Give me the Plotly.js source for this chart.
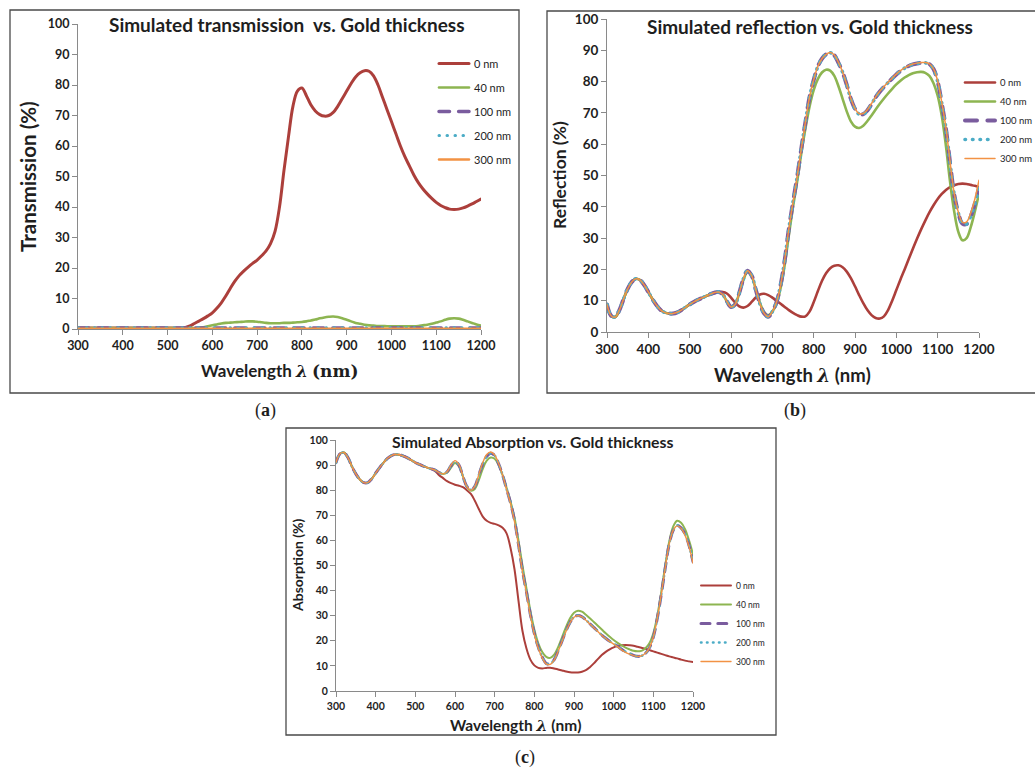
<!DOCTYPE html>
<html>
<head>
<meta charset="utf-8">
<script src="https://cdn.plot.ly/plotly-3.0.1.min.js"></script>
<style>
  html, body { margin: 0; padding: 0; background: #ffffff; }
  #fig { width: 1035px; height: 769px; }
  .js-line { stroke-linecap: round; stroke-linejoin: round; }
</style>
</head>
<body>
<div id="fig"></div>
<script>
// ---------- wavelength grids (nm) ----------
const wl = [300,310,320,330,340,350,360,370,380,390,400,410,420,430,440,450,460,470,480,490,
            500,510,520,530,540,550,560,570,580,590,600,610,620,630,640,650,660,670,680,690,
            700,710,720,730,740,750,760,770,780,790,800,810,820,830,840,850,860,870,880,890,
            900,910,920,930,940,950,960,970,980,990,1000,1010,1020,1030,1040,1050,1060,1070,1080,1090,
            1100,1110,1120,1130,1140,1150,1160,1170,1180,1190,1200];
const wlCoarse = [300,350,400,450,500,550,600,650,700,750,800,850,900,950,1000,1050,1100,1150,1200];

const seriesNames = ['0 nm', '40 nm', '100 nm', '200 nm', '300 nm'];

// ---------- (a) transmission (%) ----------
const trans0 = [0.3,0.3,0.3,0.3,0.3,0.3,0.3,0.3,0.3,0.3,0.3,0.3,0.3,0.3,0.3,0.3,0.3,0.3,0.3,0.3,
                0.3,0.3,0.3,0.3,0.5,1.0,1.8,2.6,3.4,4.3,5.3,6.8,8.6,10.8,13.3,15.6,17.5,19.0,20.3,21.5,
                22.6,24.0,25.6,28.0,32.0,40.0,52.0,63.0,73.0,78.0,79.0,76.5,73.5,71.5,70.3,69.8,70.0,71.0,73.0,75.5,
                78.0,80.5,82.6,84.0,84.7,84.5,83.0,80.0,76.0,72.0,68.0,64.0,60.0,56.5,53.5,50.5,48.0,46.0,44.3,42.8,
                41.5,40.5,39.8,39.3,39.2,39.3,39.7,40.3,41.0,41.8,42.6];
const trans40 = [0.3,0.3,0.3,0.3,0.3,0.3,0.3,0.3,0.3,0.3,0.3,0.3,0.3,0.3,0.3,0.3,0.3,0.3,0.3,0.3,
                 0.3,0.3,0.3,0.3,0.3,0.3,0.3,0.4,0.6,0.9,1.2,1.5,1.8,2.0,2.1,2.2,2.3,2.4,2.5,2.5,
                 2.4,2.2,2.0,1.9,1.9,1.9,2.0,2.0,2.1,2.2,2.3,2.5,2.8,3.1,3.5,3.8,4.0,4.1,3.9,3.5,
                 3.0,2.5,2.0,1.7,1.4,1.2,1.1,1.0,1.0,0.9,0.9,0.9,0.9,0.9,0.9,0.9,1.0,1.2,1.4,1.7,
                 2.1,2.5,3.0,3.4,3.5,3.4,3.0,2.5,2.0,1.5,1.1];
const trans100 = [0.3,0.3,0.3,0.3,0.3,0.3,0.3,0.3,0.3,0.3,0.3,0.3,0.3,0.3,0.3,0.3,0.3,0.3,0.3];
const trans200 = [0.4,0.4,0.4,0.4,0.4,0.4,0.4,0.4,0.4,0.4,0.4,0.4,0.4,0.4,0.4,0.4,0.4,0.4,0.4];
const trans300 = [0.1,0.1,0.1,0.1,0.1,0.1,0.1,0.1,0.1,0.1,0.1,0.1,0.1,0.1,0.1,0.1,0.1,0.1,0.1];

// ---------- (b) reflection (%) ----------
const refl0 = [8.8,5.2,4.8,7.0,10.5,13.8,16.0,17.0,16.6,15.0,12.8,10.5,8.5,7.0,6.2,5.9,5.9,6.3,7.0,7.9,
               8.8,9.6,10.3,10.9,11.5,12.0,12.4,12.7,12.8,12.3,11.0,9.4,8.2,7.8,8.3,9.6,11.0,12.0,12.2,11.8,
               11.0,10.0,9.0,8.0,7.0,6.1,5.4,4.9,5.0,6.5,9.5,13.0,16.3,18.8,20.4,21.2,21.3,20.7,19.3,17.2,
               14.6,11.8,9.2,7.0,5.4,4.5,4.3,5.0,7.0,10.0,13.4,16.8,20.0,23.3,26.6,29.8,32.8,35.6,38.2,40.5,
               42.5,44.1,45.4,46.3,46.9,47.3,47.4,47.3,47.0,46.7,46.3];
const refl40 = [8.8,5.2,4.8,7.0,10.5,13.8,16.0,17.0,16.6,15.0,12.8,10.5,8.5,7.0,6.2,5.9,5.9,6.3,7.0,7.9,
                8.8,9.6,10.3,10.9,11.5,12.1,12.6,12.8,12.0,9.8,8.2,9.0,12.3,16.6,19.2,17.8,13.6,9.3,6.4,5.3,
                6.5,9.0,14.0,21.5,31.0,40.0,48.0,57.0,65.0,72.0,77.3,80.8,82.9,83.8,83.5,81.8,78.5,74.5,70.5,67.3,
                65.6,65.2,65.9,67.4,69.2,71.1,72.9,74.6,76.2,77.7,79.1,80.3,81.3,82.1,82.7,83.0,83.1,82.8,81.8,79.5,
                75.5,69.0,59.5,48.0,38.5,32.0,29.3,30.0,33.5,38.5,44.2];
const refl100 = [8.8,5.2,4.8,7.0,10.5,13.8,16.0,17.0,16.6,15.0,12.8,10.5,8.5,7.0,6.2,5.9,5.9,6.3,7.0,7.9,
                 8.8,9.6,10.3,10.9,11.5,12.1,12.6,12.8,12.0,9.8,8.0,8.8,12.5,17.0,19.6,18.0,13.5,9.0,6.0,4.9,
                 6.5,9.5,15.0,23.0,33.0,41.5,49.5,58.5,67.0,75.0,80.5,84.8,87.3,88.7,89.2,88.4,86.0,83.0,79.0,74.5,
                 71.3,69.6,69.6,70.8,72.8,75.0,76.8,78.3,79.7,81.0,82.3,83.4,84.3,85.0,85.5,85.8,86.0,86.0,85.6,84.0,
                 80.0,73.0,65.0,54.0,44.0,38.0,34.6,34.5,37.0,41.0,46.0];
const refl200 = [8.8,5.2,4.8,7.0,10.5,13.8,16.0,17.0,16.6,15.0,12.8,10.5,8.5,7.0,6.2,5.9,5.9,6.3,7.0,7.9,
                 8.8,9.6,10.3,10.9,11.5,12.1,12.6,12.8,12.0,9.8,8.0,8.8,12.5,17.0,19.6,18.0,13.5,9.0,6.0,4.9,
                 6.5,9.5,15.0,23.0,33.0,41.5,49.5,58.5,67.0,75.0,80.5,84.8,87.3,88.7,89.2,88.4,86.0,83.0,79.0,74.5,
                 71.3,69.6,69.6,70.8,72.8,75.0,76.8,78.3,79.7,81.0,82.3,83.4,84.3,85.0,85.5,85.8,86.0,86.0,85.6,84.0,
                 80.0,73.0,65.0,54.0,44.0,38.0,34.6,34.5,37.0,41.0,46.0];
const refl300 = [8.8,5.2,4.8,7.0,10.5,13.8,16.0,17.0,16.6,15.0,12.8,10.5,8.5,7.0,6.2,5.9,5.9,6.3,7.0,7.9,
                 8.8,9.6,10.3,10.9,11.5,12.1,12.6,12.8,12.0,9.8,8.0,8.8,12.5,17.0,19.6,18.0,13.5,9.0,6.0,4.9,
                 6.5,9.5,15.0,23.0,33.0,41.5,49.5,58.5,67.0,75.0,80.5,84.8,87.3,88.7,89.3,88.5,86.1,83.1,79.1,74.6,
                 71.4,69.8,69.8,71.0,73.0,75.1,76.9,78.4,79.8,81.1,82.4,83.5,84.4,85.1,85.6,85.9,86.1,86.1,85.7,84.1,
                 80.2,73.3,65.3,54.3,44.3,38.3,35.0,35.2,38.0,42.5,48.5];

// ---------- (c) absorption (%) ----------
const abs0 = [91.0,94.5,95.0,93.0,89.5,86.5,84.3,83.0,83.0,84.5,86.8,89.0,91.0,92.7,93.8,94.2,94.1,93.6,92.9,92.0,
              91.0,90.3,89.6,89.0,88.5,87.6,86.0,84.8,83.6,82.8,82.2,81.8,81.2,80.0,78.5,75.8,72.5,69.5,67.8,67.0,
              66.6,66.0,65.0,62.8,57.0,48.5,36.0,24.0,17.0,12.5,10.2,9.2,9.0,9.2,9.3,9.0,8.6,8.2,7.8,7.5,
              7.4,7.4,7.7,8.3,9.5,11.0,12.7,14.3,15.6,16.6,17.4,17.9,18.2,18.3,18.2,18.0,17.6,17.2,16.8,16.3,
              15.8,15.3,14.8,14.3,13.8,13.4,13.0,12.5,12.1,11.8,11.5];
const abs40 = [91.0,94.5,95.0,93.0,89.5,86.5,84.3,83.0,83.0,84.5,86.8,89.0,91.0,92.7,93.8,94.2,94.1,93.6,92.9,92.0,
               91.0,90.3,89.6,89.0,88.5,88.0,87.0,86.5,87.0,89.0,90.8,89.5,85.5,81.3,79.8,80.5,84.0,88.5,91.8,93.0,
               92.5,90.0,86.0,81.0,75.5,69.0,60.0,50.0,41.0,32.0,24.5,19.0,15.5,13.6,13.2,14.5,17.5,21.5,25.5,29.0,
               31.2,32.0,31.6,30.4,29.0,27.5,26.0,24.5,23.0,21.6,20.3,19.2,18.2,17.3,16.6,16.0,15.8,16.0,17.0,19.0,
               23.0,30.0,39.5,50.0,59.5,65.5,67.8,67.0,64.5,60.0,54.5];
const abs100 = [91.0,94.5,95.0,93.0,89.5,86.5,84.3,83.0,83.0,84.5,86.8,89.0,91.0,92.7,93.8,94.2,94.1,93.6,92.9,92.0,
                91.0,90.3,89.6,89.0,88.5,88.0,87.0,86.5,87.3,89.8,91.5,90.0,85.5,81.5,80.2,81.5,86.0,90.5,93.5,94.7,
                93.8,90.5,86.0,80.5,75.0,68.0,58.5,48.0,39.5,30.5,23.0,17.5,13.5,11.0,10.8,12.5,16.0,20.0,24.0,27.3,
                29.5,30.1,29.6,28.3,26.8,25.3,23.8,22.3,21.0,19.8,18.8,17.8,16.6,15.6,14.9,14.2,13.8,14.0,15.0,17.2,
                21.5,29.0,38.5,49.0,58.5,64.0,66.0,65.0,62.5,58.0,51.5];
const abs200 = [91.0,94.5,95.0,93.0,89.5,86.5,84.3,83.0,83.0,84.5,86.8,89.0,91.0,92.7,93.8,94.2,94.1,93.6,92.9,92.0,
                91.0,90.3,89.6,89.0,88.5,88.0,87.0,86.5,87.3,89.8,91.5,90.0,85.5,81.5,80.2,81.5,86.0,90.5,93.5,94.7,
                93.8,90.5,86.0,80.5,75.0,68.0,58.5,48.0,39.5,30.5,23.0,17.5,13.5,11.0,10.8,12.5,16.0,20.0,24.0,27.3,
                29.5,30.1,29.6,28.3,26.8,25.3,23.8,22.3,21.0,19.8,18.8,17.8,16.6,15.6,14.9,14.2,13.8,14.0,15.0,17.2,
                21.5,29.0,38.5,49.0,58.5,64.0,66.0,65.0,62.5,58.0,51.5];
const abs300 = [91.0,94.5,95.0,93.0,89.5,86.5,84.3,83.0,83.0,84.5,86.8,89.0,91.0,92.7,93.8,94.2,94.1,93.6,92.9,92.0,
                91.0,90.3,89.6,89.0,88.5,88.0,87.0,86.5,87.4,90.0,91.8,90.2,85.6,81.4,80.0,81.5,86.2,91.0,94.2,95.2,
                94.0,90.6,86.0,80.3,74.6,67.5,58.0,47.5,39.0,30.0,22.5,17.0,13.2,10.8,10.6,12.3,15.8,19.8,23.8,27.2,
                29.4,30.0,29.5,28.2,26.7,25.2,23.7,22.2,20.9,19.7,18.7,17.6,16.4,15.4,14.7,14.1,13.8,14.0,15.0,17.2,
                21.5,29.0,38.5,49.0,58.5,64.0,65.8,64.8,62.0,57.5,51.0];

// ---------- styling ----------
const W = 1035, H = 769;
const px = v => v / W;          // pixel column -> paper x
const py = v => 1 - v / H;      // pixel row    -> paper y
const FONT = 'Lato, "Open Sans", sans-serif';
const INK = '#1e1e1e';
const AXIS = '#8a8a8a';
const colors = ['#AC3F3B', '#8DB551', '#7A5C9E', '#4BACC6', '#F29244'];

function seriesStyle(k, widths, dotGap) {
  const w = widths[k];
  const st = { color: colors[k], width: w, shape: 'spline', smoothing: 1 };
  if (k === 2) st.dash = (3 * w) + 'px,' + (2.6 * w) + 'px';
  if (k === 3) st.dash = '0.5px,' + dotGap + 'px';
  return st;
}

function makeTraces(xs, ys, xa, ya, leg, widths, dotGap) {
  return ys.map((y, k) => ({
    type: 'scatter', mode: 'lines',
    x: xs[k], y: y, name: seriesNames[k],
    xaxis: xa, yaxis: ya, legend: leg, legendgroup: leg + k,
    line: seriesStyle(k, widths, dotGap),
    hoverinfo: 'skip'
  }));
}

const traces = [].concat(
  makeTraces([wl, wl, wlCoarse, wlCoarse, wlCoarse],
             [trans0, trans40, trans100, trans200, trans300],
             'x', 'y', 'legend', [3, 2.6, 3.5, 3, 2.5], 7.5),
  makeTraces([wl, wl, wl, wl, wl],
             [refl0, refl40, refl100, refl200, refl300],
             'x2', 'y2', 'legend2', [2.6, 2.6, 4, 3.6, 1.5], 7),
  makeTraces([wl, wl, wl, wl, wl],
             [abs0, abs40, abs100, abs200, abs300],
             'x3', 'y3', 'legend3', [2, 2, 3, 2.6, 1.4], 5.5)
);

function xAxis(dom, anchor, size) {
  return {
    domain: dom, anchor: anchor, range: [300, 1200], tick0: 300, dtick: 100,
    showgrid: false, zeroline: false, showline: true, linecolor: AXIS, linewidth: 1,
    ticks: 'outside', ticklen: 5, tickcolor: AXIS, tickwidth: 1, automargin: false,
    tickfont: { family: FONT, size: size, color: INK, weight: 'bold' }, fixedrange: true
  };
}
function yAxis(dom, anchor, size) {
  return {
    domain: dom, anchor: anchor, range: [0, 100], tick0: 0, dtick: 10,
    showgrid: false, zeroline: false, showline: true, linecolor: AXIS, linewidth: 1,
    ticks: 'outside', ticklen: 5, tickcolor: AXIS, tickwidth: 1, automargin: false,
    tickfont: { family: FONT, size: size, color: INK, weight: 'bold' }, fixedrange: true
  };
}
function legendBox(x, y, size, gap) {
  return {
    x: x, y: y, xanchor: 'left', yanchor: 'top', bgcolor: 'rgba(0,0,0,0)',
    borderwidth: 0, font: { family: FONT, size: size, color: INK },
    tracegroupgap: gap, traceorder: 'grouped', itemclick: false, itemdoubleclick: false
  };
}
function label(text, x, y, size, opts) {
  return Object.assign({
    text: text, x: px(x), y: py(y), xref: 'paper', yref: 'paper',
    xanchor: 'center', yanchor: 'middle', showarrow: false,
    font: { family: FONT, size: size, color: INK, weight: 'bold' }
  }, opts || {});
}
function frame(x0, y0, x1, y1) {
  return { type: 'rect', xref: 'paper', yref: 'paper', x0: px(x0), x1: px(x1), y0: py(y1), y1: py(y0),
           line: { color: '#4a4a4a', width: 1.3 }, fillcolor: 'rgba(0,0,0,0)', layer: 'below' };
}

const lam = '<span style="font-family:\'DejaVu Serif\'"><i>λ</i></span>';
const serifLabel = { font: { family: '"Liberation Serif", serif', size: 18, color: INK } };

const layout = {
  width: W, height: H, margin: { l: 0, r: 0, t: 0, b: 0, autoexpand: false },
  paper_bgcolor: '#ffffff', plot_bgcolor: 'rgba(0,0,0,0)',
  xaxis:  xAxis([px(78), px(481)], 'y', 12.5),
  yaxis:  yAxis([py(329), py(24)], 'x', 12.5),
  xaxis2: xAxis([px(607), px(979)], 'y2', 13.5),
  yaxis2: yAxis([py(332), py(19)], 'x2', 13.5),
  xaxis3: xAxis([px(336), px(693)], 'y3', 10.5),
  yaxis3: yAxis([py(691), py(440)], 'x3', 10.5),
  legend:  legendBox(px(434), py(49), 11, 5),
  legend2: legendBox(px(960), py(68), 9.5, 0),
  legend3: legendBox(px(696), py(571), 8.5, 0),
  shapes: [
    frame(10, 10, 519, 393),
    frame(547, 11, 1040, 393),
    frame(286, 428, 776, 735)
  ],
  annotations: [
    label('Simulated transmission  vs. Gold thickness', 287, 24, 19),
    label('Simulated reflection vs. Gold thickness', 810, 27, 19),
    label('Simulated Absorption vs. Gold thickness', 532, 441, 15.8),
    label('Transmission (%)', 28, 177, 20.5, { textangle: -90 }),
    label('Reflection (%)', 559, 175, 17.5, { textangle: -90 }),
    label('Absorption (%)', 297, 565, 14, { textangle: -90 }),
    label('Wavelength ' + lam + ' <span style="font-family:\'DejaVu Serif\'">(nm)</span>', 279, 370, 17),
    label('Wavelength ' + lam + ' (nm)', 792, 375, 18.5),
    label('Wavelength ' + lam + ' (nm)', 515, 725, 15.5),
    label('(<b>a</b>)', 265, 410, 18, serifLabel),
    label('(<b>b</b>)', 795, 410, 18, serifLabel),
    label('(<b>c</b>)', 525, 757, 18, serifLabel)
  ]
};

Plotly.newPlot('fig', traces, layout, { displayModeBar: false, staticPlot: true });
</script>
</body>
</html>
